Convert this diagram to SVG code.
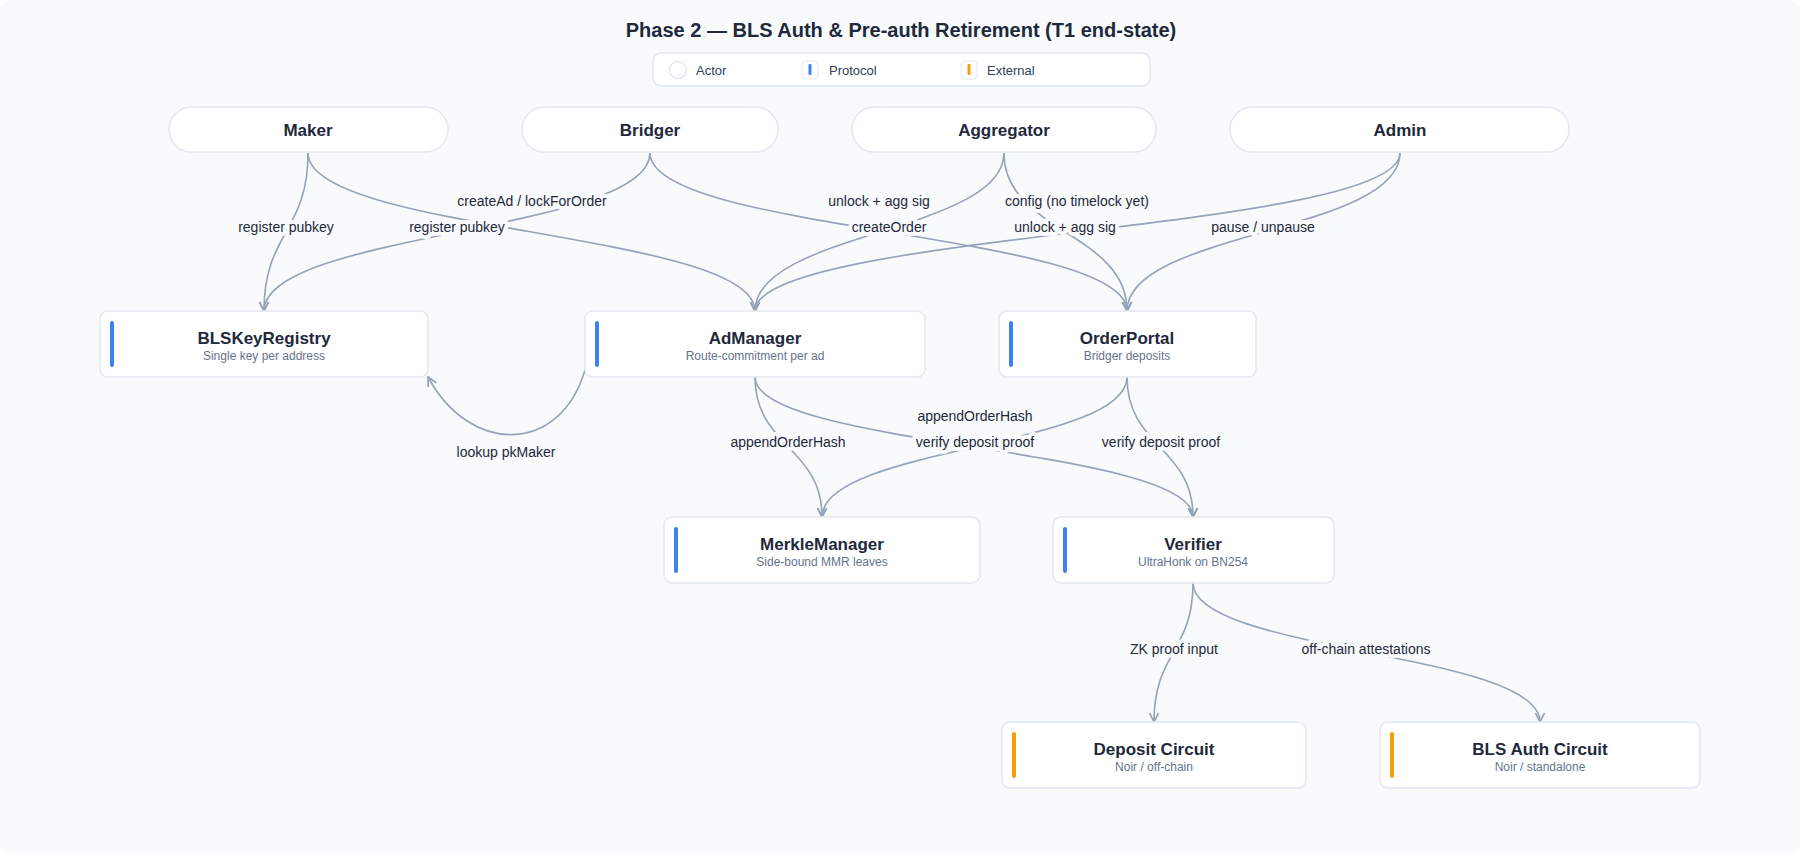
<svg xmlns="http://www.w3.org/2000/svg" width="1800" height="855" viewBox="0 0 1800 855">
<style>
.bg{fill:#f8fafc}
.title{font:bold 20px "Liberation Sans",Arial,sans-serif;fill:#1e293b;text-anchor:middle}
.leg{font:13px "Liberation Sans",Arial,sans-serif;fill:#334155}
.card{fill:#fff;stroke:#e2e8f0;stroke-width:1.5}
.nt{font:bold 17px "Liberation Sans",Arial,sans-serif;fill:#1e293b;text-anchor:middle}
.ns{font:12px "Liberation Sans",Arial,sans-serif;fill:#64748b;text-anchor:middle}
.e{fill:none;stroke:#94a3b8;stroke-width:1.6;marker-end:url(#ar)}
.el{font:14px "Liberation Sans",Arial,sans-serif;fill:#1e293b;text-anchor:middle;stroke:#f8fafc;stroke-width:8;paint-order:stroke;stroke-linejoin:round}
</style>
<defs>
<marker id="ar" viewBox="0 0 10 10" refX="9" refY="5" markerWidth="7" markerHeight="7" orient="auto-start-reverse"><path d="M1,1 L9,5 L1,9" fill="none" stroke="#94a3b8" stroke-width="1.5"/></marker>
</defs>
<rect class="bg" x="0" y="0" width="1800" height="855" rx="12"/>
<text class="title" x="901" y="37">Phase 2 — BLS Auth &amp; Pre-auth Retirement (T1 end-state)</text>
<g id="legend">
<rect class="card" x="653" y="53" width="497" height="33" rx="8"/>
<circle cx="678" cy="70" r="8.5" fill="#fff" stroke="#e2e8f0" stroke-width="1.5"/>
<text class="leg" x="696" y="75">Actor</text>
<rect x="802" y="61" width="16" height="18" rx="4" fill="#fff" stroke="#e2e8f0"/>
<rect x="808.5" y="64" width="3" height="11" rx="1" fill="#3b82f6"/>
<text class="leg" x="829" y="75">Protocol</text>
<rect x="961" y="61" width="16" height="18" rx="4" fill="#fff" stroke="#e2e8f0"/>
<rect x="967.5" y="64" width="3" height="11" rx="1" fill="#f59e0b"/>
<text class="leg" x="987" y="75">External</text>
</g>
<g id="connectors">
<path class="e" d="M308 153 C308 232,264 232,264 311"/>
<path class="e" d="M308 153 C308 232,755 232,755 311"/>
<path class="e" d="M650 153 C650 232,264 232,264 311"/>
<path class="e" d="M650 153 C650 232,1127 232,1127 311"/>
<path class="e" d="M1004 153 C1004 232,755 232,755 311"/>
<path class="e" d="M1004 153 C1004 232,1127 232,1127 311"/>
<path class="e" d="M1400 153 C1400 232,755 232,755 311"/>
<path class="e" d="M1400 153 C1400 232,1127 232,1127 311"/>
<path class="e" d="M585 370 C560 455,470 455,428 377"/>
<path class="e" d="M755 377 C755 447,822 447,822 517"/>
<path class="e" d="M1127 377 C1127 447,822 447,822 517"/>
<path class="e" d="M755 377 C755 447,1193 447,1193 517"/>
<path class="e" d="M1127 377 C1127 447,1193 447,1193 517"/>
<path class="e" d="M1193 583 C1193 652,1154 652,1154 722"/>
<path class="e" d="M1193 583 C1193 652,1540 652,1540 722"/>
<text class="el" x="286" y="232">register pubkey</text>
<text class="el" x="457" y="232">register pubkey</text>
<text class="el" x="532" y="206">createAd / lockForOrder</text>
<text class="el" x="889" y="232">createOrder</text>
<text class="el" x="879" y="206">unlock + agg sig</text>
<text class="el" x="1065" y="232">unlock + agg sig</text>
<text class="el" x="1077" y="206">config (no timelock yet)</text>
<text class="el" x="1263" y="232">pause / unpause</text>
<text class="el" x="506" y="457">lookup pkMaker</text>
<text class="el" x="788" y="447">appendOrderHash</text>
<text class="el" x="975" y="421">appendOrderHash</text>
<text class="el" x="975" y="447">verify deposit proof</text>
<text class="el" x="1161" y="447">verify deposit proof</text>
<text class="el" x="1174" y="654">ZK proof input</text>
<text class="el" x="1366" y="654">off-chain attestations</text>
</g>
<g id="maker"><rect class="card" x="169" y="107" width="279" height="45" rx="22.5"/><text class="nt" x="308" y="136">Maker</text></g>
<g id="bridger"><rect class="card" x="522" y="107" width="256" height="45" rx="22.5"/><text class="nt" x="650" y="136">Bridger</text></g>
<g id="aggregator"><rect class="card" x="852" y="107" width="304" height="45" rx="22.5"/><text class="nt" x="1004" y="136">Aggregator</text></g>
<g id="admin"><rect class="card" x="1230" y="107" width="339" height="45" rx="22.5"/><text class="nt" x="1400" y="136">Admin</text></g>
<g id="blskeyregistry"><rect class="card" x="100" y="311" width="328" height="66" rx="8"/><rect x="110" y="321" width="4" height="46" rx="2" fill="#3b82f6"/><text class="nt" x="264" y="344">BLSKeyRegistry</text><text class="ns" x="264" y="360">Single key per address</text></g>
<g id="admanager"><rect class="card" x="585" y="311" width="340" height="66" rx="8"/><rect x="595" y="321" width="4" height="46" rx="2" fill="#3b82f6"/><text class="nt" x="755" y="344">AdManager</text><text class="ns" x="755" y="360">Route-commitment per ad</text></g>
<g id="orderportal"><rect class="card" x="999" y="311" width="257" height="66" rx="8"/><rect x="1009" y="321" width="4" height="46" rx="2" fill="#3b82f6"/><text class="nt" x="1127" y="344">OrderPortal</text><text class="ns" x="1127" y="360">Bridger deposits</text></g>
<g id="merklemanager"><rect class="card" x="664" y="517" width="316" height="66" rx="8"/><rect x="674" y="527" width="4" height="46" rx="2" fill="#3b82f6"/><text class="nt" x="822" y="550">MerkleManager</text><text class="ns" x="822" y="566">Side-bound MMR leaves</text></g>
<g id="verifier"><rect class="card" x="1053" y="517" width="281" height="66" rx="8"/><rect x="1063" y="527" width="4" height="46" rx="2" fill="#3b82f6"/><text class="nt" x="1193" y="550">Verifier</text><text class="ns" x="1193" y="566">UltraHonk on BN254</text></g>
<g id="depositcircuit"><rect class="card" x="1002" y="722" width="304" height="66" rx="8"/><rect x="1012" y="732" width="4" height="46" rx="2" fill="#f59e0b"/><text class="nt" x="1154" y="755">Deposit Circuit</text><text class="ns" x="1154" y="771">Noir / off-chain</text></g>
<g id="blsauthcircuit"><rect class="card" x="1380" y="722" width="320" height="66" rx="8"/><rect x="1390" y="732" width="4" height="46" rx="2" fill="#f59e0b"/><text class="nt" x="1540" y="755">BLS Auth Circuit</text><text class="ns" x="1540" y="771">Noir / standalone</text></g>
</svg>
